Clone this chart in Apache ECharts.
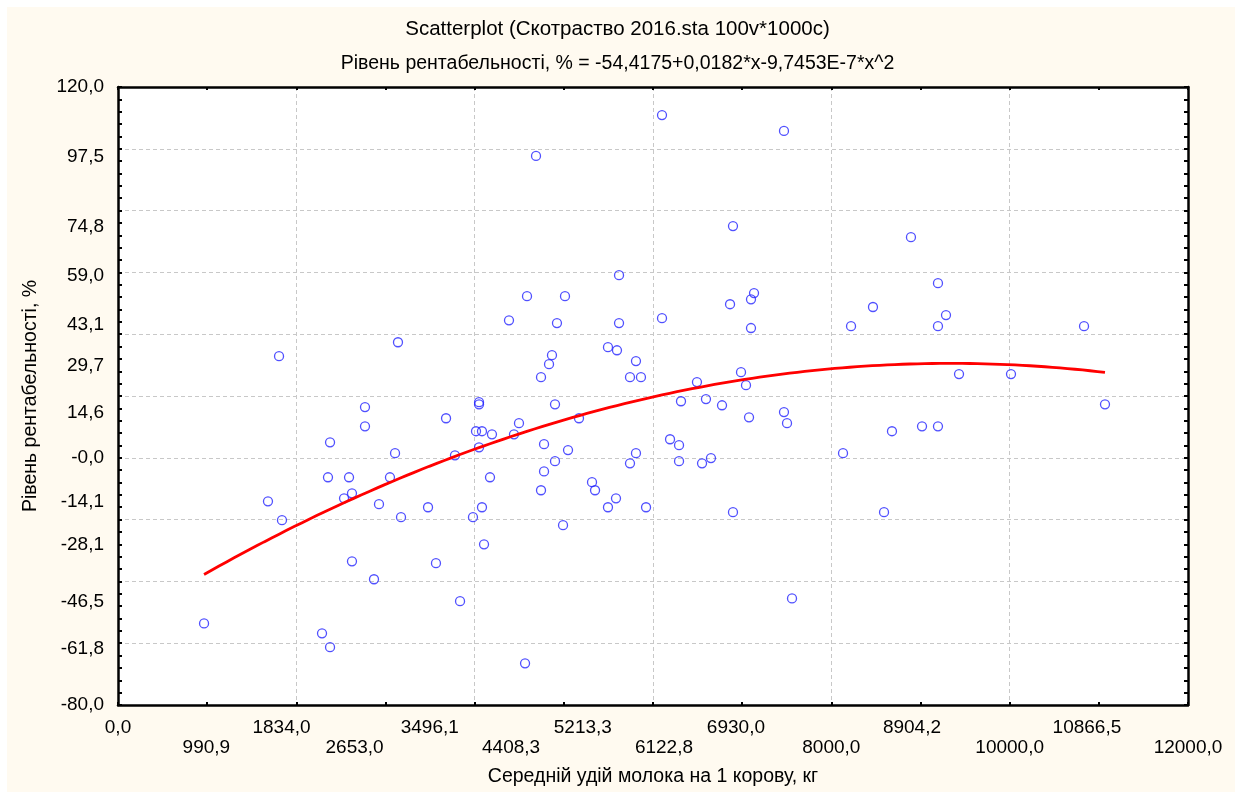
<!DOCTYPE html>
<html>
<head>
<meta charset="utf-8">
<script src="https://cdn.jsdelivr.net/npm/echarts@6/dist/echarts.min.js"></script>
<style>
html,body{margin:0;padding:0;background:#ffffff;}
#chart{width:1235px;height:792px;}
</style>
</head>
<body>
<div id="chart"></div>
<script>
// Observed points: milk yield per cow (kg) and profitability level (%)
const milkYield = [
  965, 1682, 1806, 1839, 2288, 2355, 2378, 2378, 2535, 2591, 2624, 2624, 2770, 2770, 2871, 2927, 3050, 3107, 3140, 3174,
  3477, 3566, 3679, 3779, 3836, 3981, 4015, 4049, 4049, 4049, 4082, 4082, 4105, 4172, 4194, 4385, 4441, 4497, 4565, 4587,
  4688, 4744, 4744, 4778, 4778, 4834, 4867, 4901, 4901, 4923, 4991, 5013, 5047, 5170, 5316, 5350, 5495, 5495, 5585, 5596,
  5619, 5619, 5742, 5742, 5809, 5809, 5865, 5922, 6101, 6101, 6191, 6292, 6292, 6314, 6493, 6550, 6594, 6650, 6774, 6864,
  6897, 6897, 6987, 7043, 7077, 7099, 7099, 7133, 7469, 7469, 7503, 7559, 8131, 8221, 8467, 8591, 8680, 8893, 9017, 9196,
  9196, 9196, 9286, 9432, 10015, 10834, 11069
];
const profitability = [
  -53.6, -14.1, 32.9, -20.2, -56.8, -6.3, 5.0, -61.3, -13.1, -6.3, -11.5, -33.5, 16.4, 10.2, -39.3, -15.0, -6.3, 1.5, 37.4, -19.2,
  -16.0, -34.1, 12.8, 0.8, -46.4, -19.2, 8.6, 18.0, 17.3, 3.4, 8.6, -16.0, -28.0, -6.3, 7.6, 44.5, 7.6, 11.2, -66.5, 52.3,
  97.7, 26.1, -10.5, 4.4, -4.4, 30.3, 33.2, 17.3, -1.1, 43.6, -21.8, 52.3, 2.5, 12.8, -7.9, -10.5, 35.8, -16.0, -13.1, 34.8,
  59.1, 43.6, 26.1, -1.8, 31.3, 1.5, 26.1, -16.0, 110.9, 45.2, 6.0, 4.1, -1.1, 18.3, 24.5, -1.8, 19.0, -0.1, 17.0, 49.7,
  75.0, -17.6, 27.7, 23.5, 13.1, 51.3, 42.0, 53.3, 105.8, 14.8, 11.2, -45.5, 1.5, 42.6, 48.8, -17.6, 8.6, 71.4, 10.2, 56.5,
  42.6, 10.2, 46.2, 27.1, 27.1, 42.6, 17.3
];

// Fitted quadratic shown in the subtitle
const fitCoef = [-54.4175, 0.0182, -9.7453e-7];

// Tick labels
const xTickValues = [0, 990.9, 1834.0, 2653.0, 3496.1, 4408.3, 5213.3, 6122.8, 6930.0, 8000.0, 8904.2, 10000.0, 10866.5, 12000.0];
const xTickLabels = ['0,0', '990,9', '1834,0', '2653,0', '3496,1', '4408,3', '5213,3', '6122,8', '6930,0', '8000,0', '8904,2', '10000,0', '10866,5', '12000,0'];
const yTickValues = [120.0, 97.5, 74.8, 59.0, 43.1, 29.7, 14.6, 0, -14.1, -28.1, -46.5, -61.8, -80.0];
const yTickLabels = ['120,0', '97,5', '74,8', '59,0', '43,1', '29,7', '14,6', '-0,0', '-14,1', '-28,1', '-46,5', '-61,8', '-80,0'];

const titleText = 'Scatterplot (Скотраство 2016.sta 100v*1000c)';
const subtitleText = 'Рівень рентабельності, % = -54,4175+0,0182*x-9,7453E-7*x^2';
const xName = 'Середній удій молока на 1 корову, кг';
const yName = 'Рівень рентабельності, %';

const points = milkYield.map((x, i) => [x, profitability[i]]);
const xMin = Math.min.apply(null, milkYield);
const xMax = Math.max.apply(null, milkYield);
const fitLine = [];
const nSteps = 120;
for (let i = 0; i <= nSteps; i++) {
  const x = xMin + (xMax - xMin) * i / nSteps;
  fitLine.push([x, fitCoef[0] + fitCoef[1] * x + fitCoef[2] * x * x]);
}

function lookup(vals, labs, v) {
  for (let i = 0; i < vals.length; i++) if (Math.abs(vals[i] - v) < 1e-6) return { i: i, t: labs[i] };
  return { i: -1, t: '' };
}

const FONT = 'Liberation Sans, Arial, sans-serif';
const FS = 19;
const FN = 19.5;
const gridLine = { show: true, lineStyle: { color: '#c8c8c8', type: [4, 3], width: 1 } };

const chart = echarts.init(document.getElementById('chart'), null, { renderer: 'canvas' });
chart.setOption({
  backgroundColor: 'transparent',
  animation: false,
  textStyle: { fontFamily: FONT },
  graphic: [{
    type: 'rect', z: -10, silent: true,
    shape: { x: 7, y: 7, width: 1235 - 7, height: 792 - 7 },
    style: { fill: '#fffaf0' }
  }],
  title: [
    { text: titleText, left: 'center', top: 14, textStyle: { fontFamily: FONT, fontSize: 20.5, fontWeight: 'normal', color: '#000' } },
    { text: subtitleText, left: 'center', top: 49, textStyle: { fontFamily: FONT, fontSize: FN, fontWeight: 'normal', color: '#000' } }
  ],
  grid: { left: 118, right: 47, top: 87, bottom: 87, show: true, backgroundColor: '#ffffff', borderWidth: 0, containLabel: false },
  xAxis: [{
    type: 'value', position: 'bottom', min: 0, max: 12000, interval: 2000,
    name: xName, nameLocation: 'middle', nameGap: 62,
    nameTextStyle: { fontFamily: FONT, fontSize: FN, color: '#000' },
    axisLine: { show: true, onZero: false, lineStyle: { color: '#000', width: 2.5 } },
    axisTick: { show: true, inside: true, length: 3, lineStyle: { color: '#000', width: 2 } },
    minorTick: { show: true, splitNumber: 2, length: 3, lineStyle: { color: '#000', width: 2 } },
    splitLine: gridLine,
    axisLabel: {
      customValues: xTickValues, showMinLabel: true, showMaxLabel: true, hideOverlap: false,
      margin: 13, fontFamily: FONT, fontSize: FS, color: '#000', lineHeight: 20, verticalAlign: 'top',
      formatter: function (v) { const r = lookup(xTickValues, xTickLabels, v); return r.i % 2 === 1 ? '\n' + r.t : r.t; }
    }
  }, {
    type: 'value', position: 'top', min: 0, max: 12000, interval: 2000,
    axisLine: { show: true, onZero: false, lineStyle: { color: '#000', width: 2.5 } },
    axisTick: { show: true, inside: true, length: 3, lineStyle: { color: '#000', width: 2 } },
    minorTick: { show: true, splitNumber: 2, length: 3, lineStyle: { color: '#000', width: 2 } },
    splitLine: { show: false }, axisLabel: { show: false }
  }],
  yAxis: [{
    type: 'value', position: 'left', min: -80, max: 120, interval: 20,
    name: yName, nameLocation: 'middle', nameGap: 77, nameRotate: 90,
    nameTextStyle: { fontFamily: FONT, fontSize: FN, color: '#000' },
    axisLine: { show: true, onZero: false, lineStyle: { color: '#000', width: 2.5 } },
    axisTick: { show: true, inside: true, length: 4, lineStyle: { color: '#000', width: 2 } },
    minorTick: { show: true, splitNumber: 5, length: 4, lineStyle: { color: '#000', width: 2 } },
    splitLine: gridLine,
    axisLabel: {
      customValues: yTickValues, showMinLabel: true, showMaxLabel: true, hideOverlap: false,
      margin: 14, fontFamily: FONT, fontSize: FS, color: '#000',
      formatter: function (v) { return lookup(yTickValues, yTickLabels, v).t; }
    }
  }, {
    type: 'value', position: 'right', min: -80, max: 120, interval: 20,
    axisLine: { show: true, onZero: false, lineStyle: { color: '#000', width: 2.5 } },
    axisTick: { show: true, inside: true, length: 4, lineStyle: { color: '#000', width: 2 } },
    minorTick: { show: true, splitNumber: 5, length: 4, lineStyle: { color: '#000', width: 2 } },
    splitLine: { show: false }, axisLabel: { show: false }
  }],
  series: [{
    type: 'scatter', xAxisIndex: 0, yAxisIndex: 0, data: points,
    symbol: 'circle', symbolSize: 9,
    itemStyle: { color: 'rgba(0,0,0,0)', borderColor: '#2424ff', borderWidth: 1.3 },
    z: 3
  }, {
    type: 'line', xAxisIndex: 0, yAxisIndex: 0, data: fitLine,
    showSymbol: false, smooth: false,
    lineStyle: { color: '#ff0000', width: 2.8 },
    z: 4
  }]
});
</script>
</body>
</html>
